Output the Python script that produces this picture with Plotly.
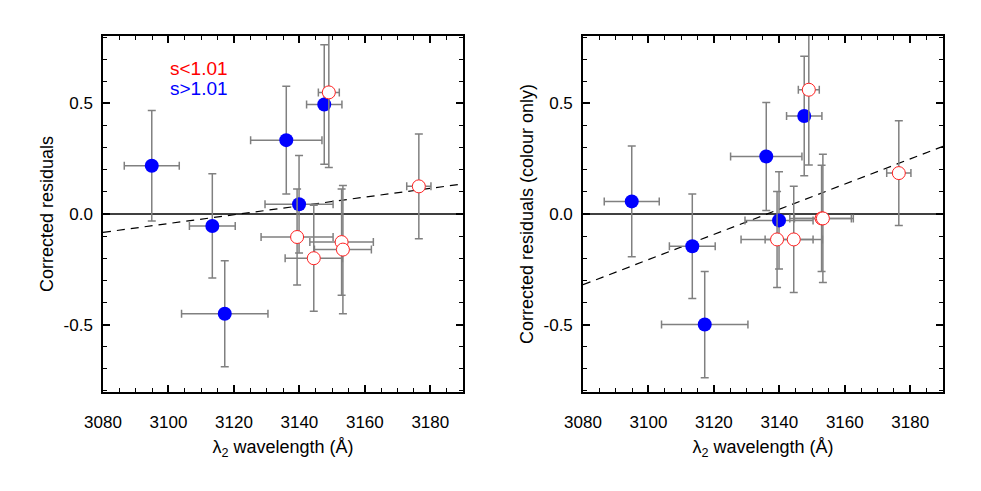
import plotly.graph_objects as go
from plotly.subplots import make_subplots

# s > 1.01 (filled blue)
blue_wave = [3094.9, 3113.4, 3117.2, 3136.0, 3139.9, 3147.6]
blue_wave_err = [8.4, 7.0, 13.2, 10.9, 10.4, 5.4]
blue_resid = [0.218, -0.054, -0.451, 0.334, 0.044, 0.495]
blue_resid_colour = [0.057, -0.146, -0.500, 0.260, -0.029, 0.443]
blue_resid_err = [0.25, 0.236, 0.24, 0.244, 0.22, 0.27]

# s < 1.01 (open red)
red_wave = [3139.3, 3144.4, 3149.0, 3152.9, 3153.3, 3176.5]
red_wave_err = [11.0, 8.75, 3.2, 9.7, 8.7, 3.7]
red_resid = [-0.104, -0.200, 0.550, -0.127, -0.161, 0.125]
red_resid_colour = [-0.115, -0.115, 0.562, -0.020, -0.020, 0.185]
red_resid_err = [0.217, 0.24, 0.34, 0.24, 0.29, 0.237]

# linear fits (dashed)
fit_wave = [3080, 3190]
fit_resid = [-0.083, 0.136]
fit_resid_colour = [-0.320, 0.306]

# y tick labels use a plain hyphen, as in the original
y_tickvals = [-0.5, 0.0, 0.5]
y_ticktext = ["-0.5", "0.0", "0.5"]

FONT = "Liberation Sans, Arial, Helvetica, sans-serif"
ERR_STYLE = {"color": "#808080", "thickness": 1.5, "width": 4}

fig = make_subplots(rows=1, cols=2)

panels = [
    (1, blue_resid, red_resid, fit_resid, "Corrected residuals"),
    (2, blue_resid_colour, red_resid_colour, fit_resid_colour,
     "Corrected residuals (colour only)"),
]

for col, b_y, r_y, f_y, ytitle in panels:
    fig.add_trace(
        go.Scatter(
            x=fit_wave, y=f_y, mode="lines",
            line={"color": "black", "width": 1.2, "dash": "8px,6px"},
            showlegend=False, hoverinfo="skip",
        ),
        row=1, col=col,
    )
    fig.add_trace(
        go.Scatter(
            x=blue_wave, y=b_y, mode="markers",
            error_x={"array": blue_wave_err, **ERR_STYLE},
            error_y={"array": blue_resid_err, **ERR_STYLE},
            marker={"color": "#0000ff", "size": 14, "line": {"width": 0}},
            showlegend=False,
        ),
        row=1, col=col,
    )
    fig.add_trace(
        go.Scatter(
            x=red_wave, y=r_y, mode="markers",
            error_x={"array": red_wave_err, **ERR_STYLE},
            error_y={"array": red_resid_err, **ERR_STYLE},
            marker={"color": "white", "size": 13,
                    "line": {"color": "#ff2020", "width": 1}},
            showlegend=False,
        ),
        row=1, col=col,
    )
    fig.add_hline(y=0, line={"color": "black", "width": 1.5},
                  layer="below", row=1, col=col)
    fig.update_yaxes(title_text=ytitle, row=1, col=col)

axis_common = dict(
    showgrid=False, zeroline=False,
    showline=True, linecolor="black", linewidth=1.5, mirror="ticks",
    ticks="inside", ticklen=7, tickwidth=1.5, tickcolor="black",
    tickfont={"size": 17, "color": "black", "family": FONT},
    title_font={"size": 18, "color": "black", "family": FONT},
)
fig.update_xaxes(
    range=[3080, 3190], dtick=20, tick0=3080,
    minor={"dtick": 5, "ticks": "inside", "ticklen": 4, "tickwidth": 1,
           "tickcolor": "black"},
    ticklabelstandoff=14, title_text="λ<sub>2</sub> wavelength (Å)",
    title_standoff=9, **axis_common,
)
fig.update_yaxes(
    range=[-0.805, 0.805], tickvals=y_tickvals, ticktext=y_ticktext,
    minor={"dtick": 0.1, "tick0": 0, "ticks": "inside", "ticklen": 4,
           "tickwidth": 1, "tickcolor": "black"},
    ticklabelstandoff=5, title_standoff=5, **axis_common,
)
fig.update_layout(
    xaxis={"domain": [0, 0.4286]},
    xaxis2={"domain": [0.5714, 1]},
)

fig.add_annotation(x=3100, y=0.657, xref="x", yref="y", text="s<1.01",
                   showarrow=False, xanchor="left",
                   font={"size": 19, "color": "#ff0000", "family": FONT})
fig.add_annotation(x=3100, y=0.566, xref="x", yref="y", text="s>1.01",
                   showarrow=False, xanchor="left",
                   font={"size": 19, "color": "#0000ff", "family": FONT})

fig.update_layout(
    width=981, height=491,
    margin={"l": 103, "r": 38, "t": 36, "b": 99},
    plot_bgcolor="white", paper_bgcolor="white",
    font={"family": FONT, "color": "black"},
)

fig.write_html("out.html", config={"displayModeBar": False},
               post_script="document.body.style.margin='0';")
